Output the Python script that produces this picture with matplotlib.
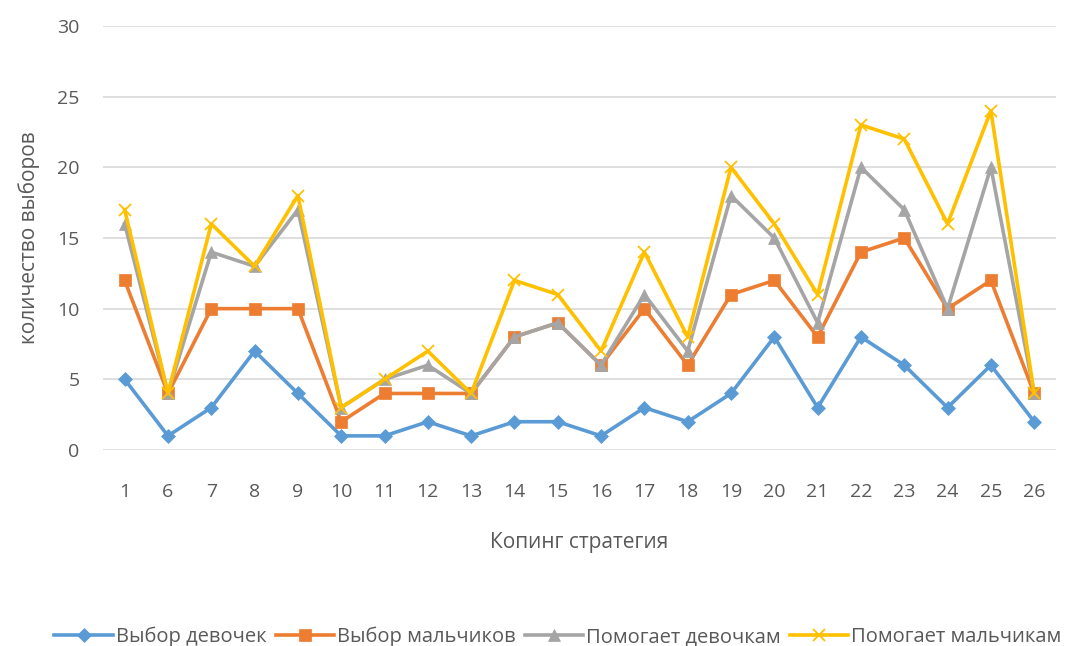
import matplotlib
matplotlib.use("Agg")
import matplotlib.pyplot as plt

categories = ["1", "6", "7", "8", "9", "10", "11", "12", "13", "14", "15", "16",
              "17", "18", "19", "20", "21", "22", "23", "24", "25", "26"]
girls_choice = [5, 1, 3, 7, 4, 1, 1, 2, 1, 2, 2, 1, 3, 2, 4, 8, 3, 8, 6, 3, 6, 2]
boys_choice = [12, 4, 10, 10, 10, 2, 4, 4, 4, 8, 9, 6, 10, 6, 11, 12, 8, 14, 15, 10, 12, 4]
helps_girls = [16, 4, 14, 13, 17, 3, 5, 6, 4, 8, 9, 6, 11, 7, 18, 15, 9, 20, 17, 10, 20, 4]
helps_boys = [17, 4, 16, 13, 18, 3, 5, 7, 4, 12, 11, 7, 14, 8, 20, 16, 11, 23, 22, 16, 24, 4]
series_names = ["Выбор девочек", "Выбор мальчиков", "Помогает девочкам", "Помогает мальчикам"]
y_ticks = [0, 5, 10, 15, 20, 25, 30]

plt.rcParams['font.family'] = ['Open Sans', 'DejaVu Sans']

fig = plt.figure(figsize=(10.73, 6.46), dpi=100)
ax = fig.add_axes([0.096, 0.3034, 0.888, 0.6564])

x = list(range(len(categories)))
styles = [
    (girls_choice, "#5B9BD5", "D", 7),
    (boys_choice, "#ED7D31", "s", 8),
    (helps_girls, "#A5A5A5", "^", 8),
    (helps_boys, "#FFC000", "x", 9),
]
for (vals, col, mk, ms), name in zip(styles, series_names):
    ax.plot(x, vals, color=col, lw=2.6, marker=mk, markersize=ms,
            markeredgewidth=1.3 if mk == "x" else 0.5, markeredgecolor=col,
            markerfacecolor=col, label=name, solid_joinstyle='round')

ax.set_xlim(-0.5, len(categories) - 0.5)
ax.set_ylim(0, 30)
ax.set_yticks(y_ticks)
ax.set_xticks(x)
ax.set_xticklabels(categories)
ax.yaxis.grid(True, color="#D9D9D9", lw=1.2)
ax.set_axisbelow(True)
for s in ax.spines.values():
    s.set_visible(False)
ax.tick_params(axis='both', length=0, labelsize=14, colors="#595959")
ax.tick_params(axis='y', pad=17)
ax.tick_params(axis='x', pad=24)

ax.set_xlabel("Копинг стратегия", fontsize=15, color="#595959", labelpad=22)
ax.set_ylabel("количество выборов", fontsize=15, color="#595959", labelpad=12)

leg = fig.legend(loc='center', bbox_to_anchor=(0.52, 0.014), ncol=4, frameon=False,
                 fontsize=14.5, handlelength=2.9, columnspacing=0.45, handletextpad=0.15,
                 labelcolor="#595959")

fig.savefig("out.png", dpi=100)
